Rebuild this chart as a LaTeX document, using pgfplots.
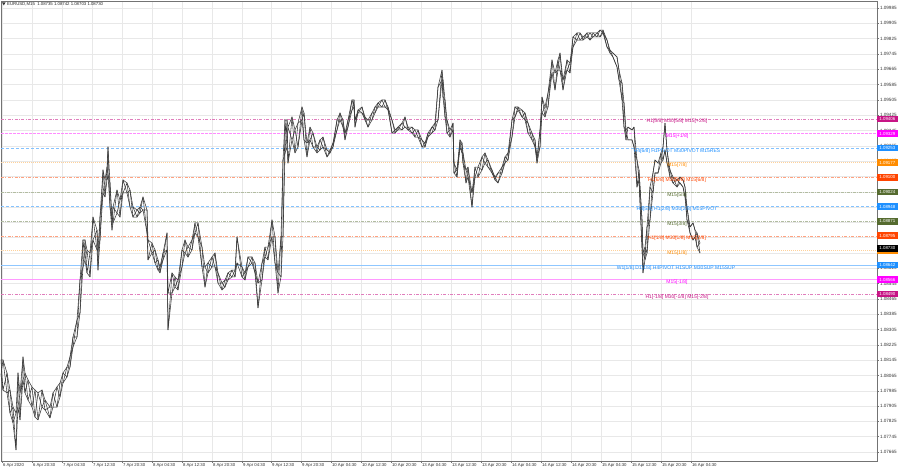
\documentclass[border=0pt]{standalone}
\usepackage{pgfplots}
\pgfplotsset{compat=1.18}
\usepackage{pgfplotstable}
\usepackage{fontspec}
\setmainfont{Liberation Sans}

\definecolor{mvr}{HTML}{C71585}
\definecolor{mag}{HTML}{FF00FF}
\definecolor{dblue}{HTML}{1E90FF}
\definecolor{dorange}{HTML}{FF8C00}
\definecolor{ored}{HTML}{FF4500}
\definecolor{olivec}{HTML}{556B2F}
\definecolor{bar}{HTML}{3A3A3A}

\newcommand{\lvlfont}{\fontsize{5}{5}\selectfont}
\newcommand{\boxfont}{\fontsize{4.4}{4.4}\selectfont}

% EURUSD M15 bars, sampled: x position, high, low
\pgfplotstableread{
x hi lo
1 1.08146 1.08068
3 1.08146 1.07989
7 1.08078 1.07974
10 1.07989 1.07869
13 1.07900 1.07817
16 1.07869 1.07676
18 1.08078 1.07900
20 1.07974 1.07833
23 1.08162 1.08042
25 1.08078 1.07974
28 1.08042 1.07937
32 1.08005 1.07900
35 1.07989 1.07848
38 1.07974 1.07833
42 1.07989 1.07900
45 1.07937 1.07885
50 1.07900 1.07843
53 1.07974 1.07900
57 1.08005 1.07900
60 1.08026 1.07953
63 1.08078 1.08026
67 1.08109 1.08057
70 1.08162 1.08109
73 1.08266 1.08214
77 1.08355 1.08266
80 1.08564 1.08392
83 1.08773 1.08632
85 1.08773 1.08669
87 1.08721 1.08601
90 1.08705 1.08580
93 1.08893 1.08773
97 1.08825 1.08721
98 1.08721 1.08616
100 1.08893 1.08773
103 1.09139 1.09019
105 1.09087 1.08998
107 1.09154 1.09087
108 1.09259 1.09113
110 1.09071 1.08945
112 1.08893 1.08825
113 1.08945 1.08862
117 1.09034 1.08914
120 1.08982 1.08893
123 1.09087 1.09019
127 1.09071 1.09019
130 1.09034 1.08945
133 1.08945 1.08893
137 1.08930 1.08893
140 1.08945 1.08914
143 1.08998 1.08930
147 1.08930 1.08810
148 1.08773 1.08669
152 1.08757 1.08705
155 1.08721 1.08653
158 1.08669 1.08616
160 1.08632 1.08601
163 1.08705 1.08669
167 1.08810 1.08721
168 1.08496 1.08303
172 1.08601 1.08496
175 1.08580 1.08527
178 1.08564 1.08512
182 1.08721 1.08632
185 1.08773 1.08705
188 1.08736 1.08684
192 1.08773 1.08721
195 1.08862 1.08810
198 1.08862 1.08789
202 1.08736 1.08632
205 1.08632 1.08527
208 1.08653 1.08601
212 1.08684 1.08632
215 1.08705 1.08632
218 1.08601 1.08548
222 1.08548 1.08512
225 1.08564 1.08527
228 1.08601 1.08564
232 1.08616 1.08580
235 1.08616 1.08580
237 1.08789 1.08653
242 1.08632 1.08580
245 1.08601 1.08564
248 1.08684 1.08632
252 1.08684 1.08653
255 1.08653 1.08601
258 1.08548 1.08418
262 1.08653 1.08564
265 1.08736 1.08684
268 1.08736 1.08669
272 1.08878 1.08789
275 1.08789 1.08653
278 1.08601 1.08496
281 1.08789 1.08580
283 1.09191 1.08789
285 1.09400 1.09228
287 1.09400 1.09259
288 1.09363 1.09175
292 1.09416 1.09296
295 1.09348 1.09228
298 1.09384 1.09259
302 1.09468 1.09400
304 1.09437 1.09296
307 1.09280 1.09207
310 1.09363 1.09296
313 1.09332 1.09259
317 1.09259 1.09228
320 1.09296 1.09243
323 1.09311 1.09259
327 1.09243 1.09207
330 1.09243 1.09228
333 1.09280 1.09259
337 1.09400 1.09348
340 1.09437 1.09400
343 1.09400 1.09363
345 1.09332 1.09296
348 1.09400 1.09363
352 1.09505 1.09452
354 1.09505 1.09468
355 1.09400 1.09363
358 1.09452 1.09437
362 1.09468 1.09437
365 1.09416 1.09400
368 1.09400 1.09363
372 1.09437 1.09400
375 1.09468 1.09437
378 1.09489 1.09468
382 1.09505 1.09468
385 1.09505 1.09468
388 1.09468 1.09452
392 1.09400 1.09332
395 1.09348 1.09332
398 1.09363 1.09348
402 1.09384 1.09348
405 1.09416 1.09363
408 1.09363 1.09348
412 1.09363 1.09332
415 1.09348 1.09311
418 1.09348 1.09311
422 1.09296 1.09259
425 1.09280 1.09259
428 1.09332 1.09311
432 1.09363 1.09332
435 1.09384 1.09348
438 1.09572 1.09400
442 1.09661 1.09609
443 1.09609 1.09520
445 1.09505 1.09416
447 1.09400 1.09332
450 1.09348 1.09311
453 1.09384 1.09348
454 1.09175 1.09123
457 1.09139 1.09102
460 1.09296 1.09259
462 1.09280 1.09228
463 1.09228 1.09175
466 1.09139 1.09071
468 1.09154 1.09102
472 1.09019 1.08945
475 1.09154 1.09102
478 1.09154 1.09102
482 1.09207 1.09139
485 1.09228 1.09175
488 1.09191 1.09154
492 1.09139 1.09123
495 1.09102 1.09087
498 1.09123 1.09071
502 1.09154 1.09123
505 1.09207 1.09175
508 1.09228 1.09191
512 1.09400 1.09311
515 1.09468 1.09416
518 1.09468 1.09452
522 1.09452 1.09416
525 1.09437 1.09400
528 1.09384 1.09332
532 1.09332 1.09296
535 1.09296 1.09259
537 1.09207 1.09175
540 1.09348 1.09259
542 1.09520 1.09437
545 1.09468 1.09416
548 1.09541 1.09468
552 1.09714 1.09646
555 1.09646 1.09557
558 1.09714 1.09661
560 1.09750 1.09661
563 1.09609 1.09557
567 1.09714 1.09661
570 1.09698 1.09646
573 1.09834 1.09781
577 1.09855 1.09818
580 1.09855 1.09818
583 1.09834 1.09818
587 1.09855 1.09834
590 1.09855 1.09818
593 1.09855 1.09834
597 1.09855 1.09834
600 1.09870 1.09834
603 1.09870 1.09855
607 1.09818 1.09781
610 1.09766 1.09750
613 1.09750 1.09729
617 1.09729 1.09677
619 1.09661 1.09609
622 1.09593 1.09505
624 1.09489 1.09363
626 1.09348 1.09296
628 1.09363 1.09296
632 1.09348 1.09296
634 1.09363 1.09259
637 1.09191 1.09050
639 1.09139 1.09087
642 1.08878 1.08736
643 1.08705 1.08601
645 1.08736 1.08669
647 1.08841 1.08705
650 1.09050 1.08878
653 1.09123 1.09019
655 1.09191 1.09123
658 1.09175 1.09123
661 1.09228 1.09175
663 1.09259 1.09191
665 1.09384 1.09243
667 1.09243 1.09175
670 1.09139 1.09102
673 1.09102 1.09071
677 1.09087 1.09050
680 1.09102 1.09071
683 1.09087 1.09050
685 1.09050 1.08998
687 1.08945 1.08878
690 1.08841 1.08810
693 1.08862 1.08773
695 1.08825 1.08789
697 1.08810 1.08736
700 1.08757 1.08705
}\bars

\begin{document}
\begin{tikzpicture}[x=1pt,y=1pt]
\fill[white] (0,0) rectangle (900,470);
\path[use as bounding box] (0,0) rectangle (900,470);
\begin{axis}[
    at={(1pt,9pt)}, anchor=south west,
    scale only axis, width=876pt, height=460pt,
    xmin=1, xmax=877, ymin=1.07618, ymax=1.10022,
    clip=false,
    axis line style={black!55, line width=0.5pt},
    xtick pos=bottom, ytick pos=right, yticklabel pos=right,
    tick align=outside, major tick length=2pt,
    tick style={black!55, line width=0.4pt},
    grid=major, major grid style={black!9, line width=0.4pt},
    xtick={2,32,62,92,122,152,182,212,242,271,301,331,361,391,421,451,481,511,541,571,601,631,661,691},
    xticklabels={6 Apr 2020,6 Apr 20:30,7 Apr 04:30,7 Apr 12:30,7 Apr 20:30,8 Apr 04:30,8 Apr 12:30,8 Apr 20:30,9 Apr 04:30,9 Apr 12:30,9 Apr 20:30,10 Apr 04:30,10 Apr 12:30,10 Apr 20:30,13 Apr 04:30,13 Apr 12:30,13 Apr 20:30,14 Apr 04:30,14 Apr 12:30,14 Apr 20:30,15 Apr 04:30,15 Apr 12:30,15 Apr 20:30,16 Apr 04:30},
    ytick={1.07665,1.07745,1.07825,1.07905,1.07985,1.08065,1.08145,1.08225,1.08305,1.08385,1.08465,1.08545,1.08625,1.08705,1.08785,1.08865,1.08945,1.09025,1.09105,1.09185,1.09265,1.09345,1.09425,1.09505,1.09585,1.09665,1.09745,1.09825,1.09905,1.09985},
    % labels hidden behind the price boxes are left empty
    yticklabels={1.07665,1.07745,1.07825,1.07905,1.07985,1.08065,1.08145,1.08225,1.08305,1.08385,1.08465,1.08545,1.08625,1.08705,{},1.08865,{},1.09025,{},1.09185,1.09265,1.09345,1.09425,1.09505,1.09585,1.09665,1.09745,1.09825,1.09905,1.09985},
    xticklabel style={anchor=north west, font=\fontsize{4.3}{4.3}\selectfont, text=black!80, inner sep=0.8pt},
    yticklabel style={anchor=west, font=\fontsize{4.6}{4.6}\selectfont, text=black!80, inner sep=0.8pt},
]

% level lines
\addplot[mvr!55, line width=0.5pt, dash pattern=on 3pt off 1.5pt on 0.8pt off 1.5pt] coordinates {(1,1.09406) (877,1.09406)};
\addplot[mag!45, line width=0.5pt, dash pattern=on 3pt off 1pt] coordinates {(1,1.09329) (877,1.09329)};
\addplot[dblue!55, line width=0.5pt, dash pattern=on 3pt off 2pt] coordinates {(1,1.09253) (877,1.09253)};
\addplot[dorange!40, line width=0.5pt, dash pattern=on 1pt off 1pt] coordinates {(1,1.09177) (877,1.09177)};
\addplot[ored!50, line width=0.5pt, dash pattern=on 3pt off 1.5pt on 0.8pt off 1.5pt] coordinates {(1,1.09100) (877,1.09100)};
\addplot[olivec!45, line width=0.5pt, dash pattern=on 3pt off 1pt on 1pt off 1pt] coordinates {(1,1.09024) (877,1.09024)};
\addplot[dblue!55, line width=0.5pt, dash pattern=on 3pt off 2pt] coordinates {(1,1.08948) (877,1.08948)};
\addplot[olivec!45, line width=0.5pt, dash pattern=on 3pt off 1pt on 1pt off 1pt] coordinates {(1,1.08871) (877,1.08871)};
\addplot[ored!50, line width=0.5pt, dash pattern=on 3pt off 1.5pt on 0.8pt off 1.5pt] coordinates {(1,1.08795) (877,1.08795)};
\addplot[dorange!40, line width=0.5pt, dash pattern=on 1pt off 1pt] coordinates {(1,1.08719) (877,1.08719)};
\addplot[dblue!50, line width=0.5pt] coordinates {(1,1.08642) (877,1.08642)};
\addplot[mag!40, line width=0.5pt] coordinates {(1,1.08566) (877,1.08566)};
\addplot[mvr!55, line width=0.5pt, dash pattern=on 3pt off 1.5pt on 0.8pt off 1.5pt] coordinates {(1,1.08490) (877,1.08490)};

% price bars: line of highs, line of lows, and two zigzags between them
\addplot[bar, line width=0.55pt, line join=round] table[x=x, y=hi] {\bars};
\addplot[bar, line width=0.55pt, line join=round] table[x=x, y=lo] {\bars};
\addplot[bar, line width=0.55pt, line join=round]
    table[x=x, y expr={ifthenelse(mod(\coordindex,2)==0,\thisrow{hi},\thisrow{lo})}] {\bars};
\addplot[bar, line width=0.55pt, line join=round]
    table[x=x, y expr={ifthenelse(mod(\coordindex,2)==0,\thisrow{lo},\thisrow{hi})}] {\bars};

% level labels
\node[text=mvr, font=\lvlfont, yshift=-2.8pt] at (axis cs:677,1.09406) {H1[5/8] M30[5/8] M15[+2/8]};
\node[text=mag, font=\lvlfont, yshift=-2.8pt] at (axis cs:677,1.09329) {M15[+1/8]};
\node[text=dblue, font=\lvlfont, yshift=-2.8pt] at (axis cs:677,1.09253) {H4[6/8] H1PIVOT M30PIVOT M15RES};
\node[text=dorange, font=\lvlfont, yshift=-2.8pt] at (axis cs:677,1.09177) {M15[7/8]};
\node[text=ored, font=\lvlfont, yshift=-2.8pt] at (axis cs:677,1.09100) {H1[6/8] M30[6/8] M15[6/8]};
\node[text=olivec, font=\lvlfont, yshift=-2.8pt] at (axis cs:677,1.09024) {M15[5/8]};
\node[text=dblue, font=\lvlfont, yshift=-2.8pt] at (axis cs:677,1.08948) {H4[5/8] H1[2/8] M30[2/8] M15PIVOT};
\node[text=olivec, font=\lvlfont, yshift=-2.8pt] at (axis cs:677,1.08871) {M15[3/8]};
\node[text=ored, font=\lvlfont, yshift=-2.8pt] at (axis cs:677,1.08795) {H1[1/8] M30[1/8] M15[2/8]};
\node[text=dorange, font=\lvlfont, yshift=-2.8pt] at (axis cs:677,1.08719) {M15[1/8]};
\node[text=dblue, font=\lvlfont, yshift=-2.8pt] at (axis cs:676,1.08642) {W1[1/8] D1[1/8] H4PIVOT H1SUP M30SUP M15SUP};
\node[text=mag, font=\lvlfont, yshift=-2.8pt] at (axis cs:677,1.08566) {M15[-1/8]};
\node[text=mvr, font=\lvlfont, yshift=-2.8pt] at (axis cs:677,1.08490) {H1[-1/8] M30[-1/8] M15[-2/8]};

% anchors for the price boxes on the right scale
\coordinate (b1) at (axis cs:877,1.09406);
\coordinate (b2) at (axis cs:877,1.09329);
\coordinate (b3) at (axis cs:877,1.09253);
\coordinate (b4) at (axis cs:877,1.09177);
\coordinate (b5) at (axis cs:877,1.09100);
\coordinate (b6) at (axis cs:877,1.09024);
\coordinate (b7) at (axis cs:877,1.08948);
\coordinate (b8) at (axis cs:877,1.08871);
\coordinate (b9) at (axis cs:877,1.08795);
\coordinate (b10) at (axis cs:877,1.08719);
\coordinate (b11) at (axis cs:877,1.08730);
\coordinate (b12) at (axis cs:877,1.08642);
\coordinate (b13) at (axis cs:877,1.08566);
\coordinate (b14) at (axis cs:877,1.08490);
\end{axis}

\tikzset{pbox/.style={anchor=west, text=white, font=\boxfont, inner xsep=2.2pt, inner ysep=0pt, minimum height=6.6pt}}
\node[pbox, fill=mvr] at (b1) {1.09406};
\node[pbox, fill=mag] at (b2) {1.09329};
\node[pbox, fill=dblue] at (b3) {1.09253};
\node[pbox, fill=dorange] at (b4) {1.09177};
\node[pbox, fill=ored] at (b5) {1.09100};
\node[pbox, fill=olivec] at (b6) {1.09024};
\node[pbox, fill=dblue] at (b7) {1.08948};
\node[pbox, fill=olivec] at (b8) {1.08871};
\node[pbox, fill=ored] at (b9) {1.08795};
\node[pbox, fill=dorange] at (b10) {1.08719};
\node[pbox, fill=black] at (b11) {1.08730};
\node[pbox, fill=dblue] at (b12) {1.08642};
\node[pbox, fill=mag] at (b13) {1.08566};
\node[pbox, fill=mvr] at (b14) {1.08490};

% chart title
\fill[black!80] (2,467.6) -- (5.6,467.6) -- (3.8,464.6) -- cycle;
\node[anchor=west, inner sep=0pt, font=\fontsize{4.3}{4.3}\selectfont, text=black!85] at (7,466) {EURUSD,M15\ \ 1.08735 1.08742 1.08703 1.08730};
\end{tikzpicture}
\end{document}
